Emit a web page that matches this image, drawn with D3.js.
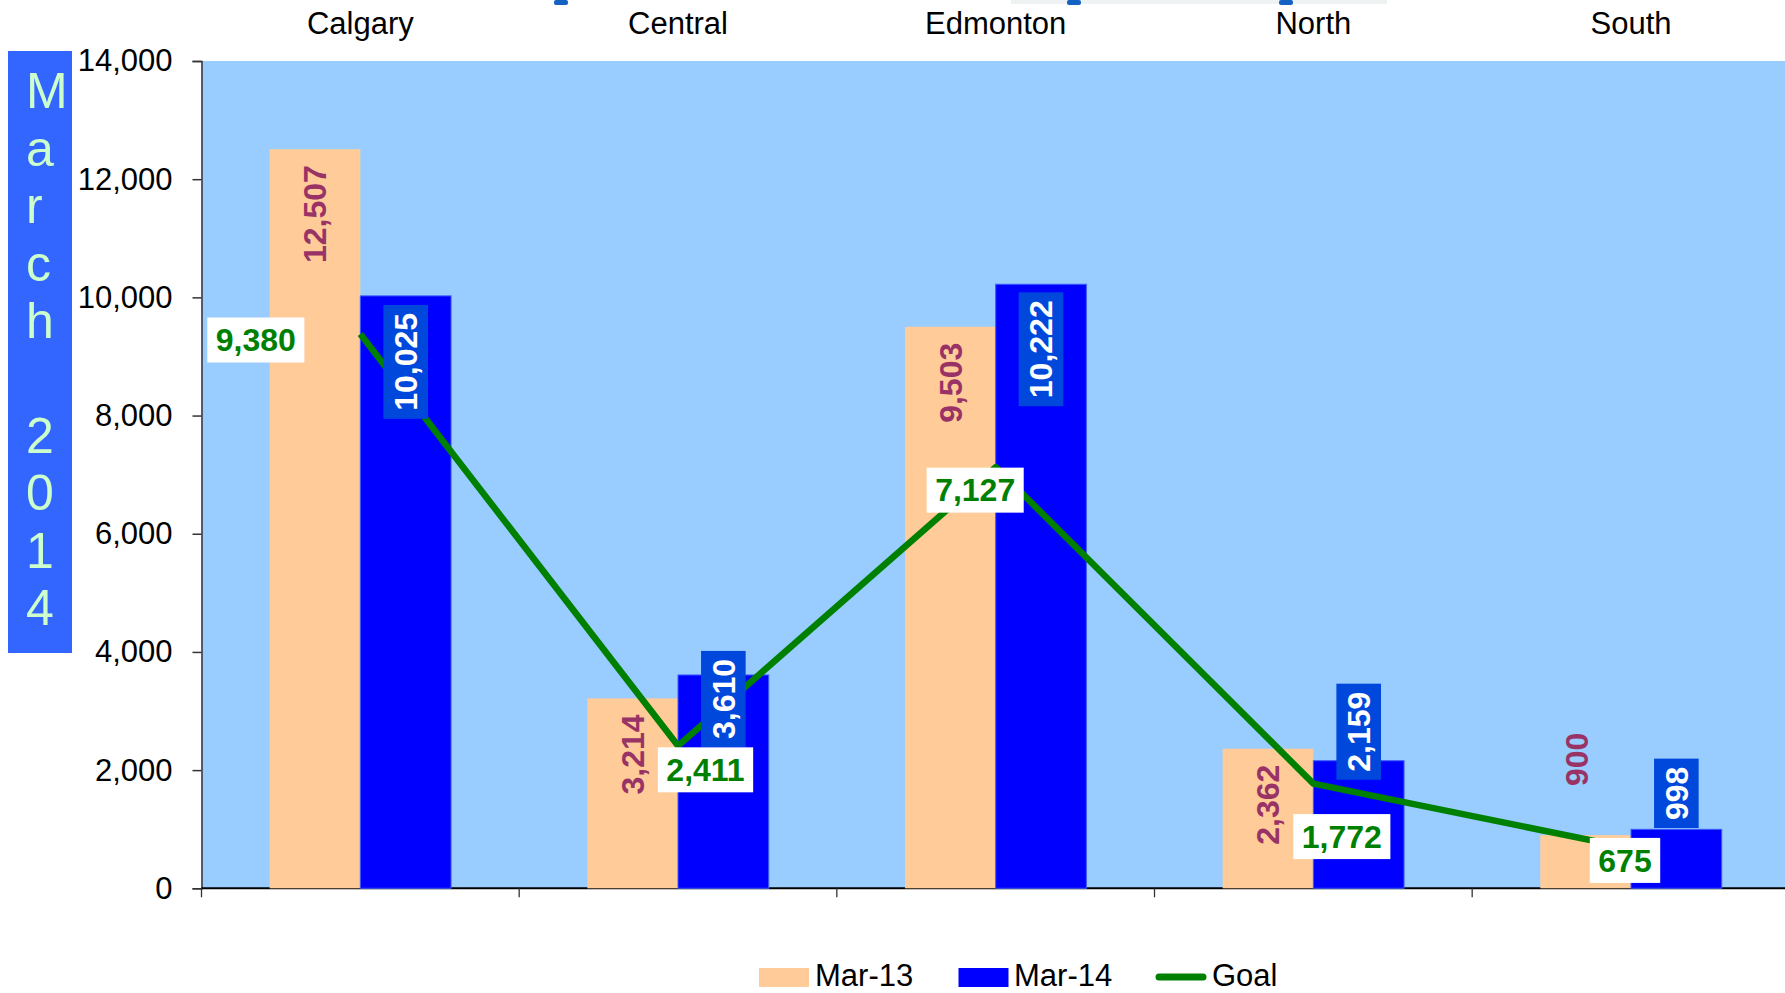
<!DOCTYPE html>
<html>
<head>
<meta charset="utf-8">
<script src="https://cdn.jsdelivr.net/npm/d3@7"></script>
<style>
  body { margin: 0; background: #fff; }
  text { font-family: "Liberation Sans", Arial, sans-serif; }
</style>
</head>
<body>
<script>
// chart data
const categories = ["Calgary", "Central", "Edmonton", "North", "South"];
const seriesNames = ["Mar-13", "Mar-14", "Goal"];
const mar13 = [12507, 3214, 9503, 2362, 900];
const mar14 = [10025, 3610, 10222, 2159, 998];
const goal = [9380, 2411, 7127, 1772, 675];
const yTicks = [0, 2000, 4000, 6000, 8000, 10000, 12000, 14000];
const titleText = "March 2014";

// label nudges (hand placed in the original)
const goalLabelShift = [[-104.5, 6], [27.5, 24], [-20.5, 23], [28.5, 53], [-6, 12]];
const mar14LabelShift = [66, 24, 65, -29, -36];

const W = 1785, H = 993;
const plotLeft = 201.5, plotTop = 61, plotBottom = 888.3;
const band = 317.67;

const svg = d3.select("body").append("svg")
  .attr("width", W)
  .attr("height", H);

const x0 = d3.scaleBand().domain(categories).range([plotLeft, plotLeft + band * categories.length]);
const groupW = x0.bandwidth() * 0.571;
const x1 = d3.scaleBand().domain(seriesNames.slice(0, 2)).range([0, groupW]);
const y = d3.scaleLinear().domain([0, 14000]).range([plotBottom, plotTop]);
const fmt = d3.format(",");

function barX(c, s) { return x0(c) + (x0.bandwidth() - groupW) / 2 + x1(s); }
function mid(c) { return x0(c) + x0.bandwidth() / 2; }

// bits of something cropped at the top edge
svg.append("rect").attr("x", 1011).attr("y", 0).attr("width", 376).attr("height", 4).attr("fill", "#eef2f2");
[561, 1074, 1286].forEach(function(mx) {
  svg.append("rect").attr("x", mx - 7).attr("y", 0).attr("width", 14).attr("height", 5).attr("rx", 2).attr("fill", "#1463c4");
});

// plot background
svg.append("rect")
  .attr("x", plotLeft).attr("y", plotTop)
  .attr("width", W - plotLeft + 10).attr("height", plotBottom - plotTop)
  .attr("fill", "#99ccff");

// title box on the left
svg.append("rect").attr("x", 8).attr("y", 51).attr("width", 64).attr("height", 602).attr("fill", "#3366ff");
titleText.split("").forEach(function(ch, i) {
  if (ch === " ") return;
  svg.append("text")
    .attr("x", 26).attr("y", 108.3 + 57.4 * i)
    .attr("font-size", 50)
    .attr("fill", "#ccffcc")
    .text(ch);
});

// y axis
const yAxis = d3.axisLeft(y).tickValues(yTicks).tickSize(9).tickPadding(20).tickFormat(fmt);
const ya = svg.append("g").attr("transform", "translate(" + plotLeft + ",0)").call(yAxis);
ya.select(".domain").attr("stroke", "#333").attr("stroke-width", 1.5);
ya.selectAll(".tick line").attr("stroke", "#333").attr("stroke-width", 1.5);
ya.selectAll(".tick text").attr("font-size", 31).attr("fill", "#000")
  .attr("font-family", "Liberation Sans, Arial, sans-serif");

// x axis line + boundary ticks
svg.append("line").attr("x1", plotLeft).attr("x2", W).attr("y1", plotBottom).attr("y2", plotBottom)
  .attr("stroke", "#000").attr("stroke-width", 2);
d3.range(categories.length + 1).forEach(function(i) {
  const tx = plotLeft + band * i;
  svg.append("line").attr("x1", tx).attr("x2", tx).attr("y1", plotBottom).attr("y2", plotBottom + 9)
    .attr("stroke", "#333").attr("stroke-width", 1.3);
});

// category names at the top
svg.selectAll(".cat").data(categories).enter().append("text")
  .attr("x", d => mid(d)).attr("y", 34)
  .attr("text-anchor", "middle").attr("font-size", 31).attr("fill", "#000")
  .text(d => d);

// bars
svg.selectAll(".b13").data(categories).enter().append("rect")
  .attr("x", d => barX(d, "Mar-13")).attr("width", x1.bandwidth())
  .attr("y", (d, i) => y(mar13[i])).attr("height", (d, i) => plotBottom - y(mar13[i]))
  .attr("fill", "#ffcc99");
svg.selectAll(".b14").data(categories).enter().append("rect")
  .attr("x", d => barX(d, "Mar-14")).attr("width", x1.bandwidth())
  .attr("y", (d, i) => y(mar14[i])).attr("height", (d, i) => plotBottom - y(mar14[i]))
  .attr("fill", "#0000ff").attr("stroke", "#3a5cff").attr("stroke-width", 1);

// Mar-13 value labels (inside end, or above if it won't fit)
categories.forEach(function(c, i) {
  const cx = barX(c, "Mar-13") + x1.bandwidth() / 2;
  const t = svg.append("text")
    .attr("font-size", 32).attr("font-weight", "bold").attr("fill", "#993366")
    .attr("dy", "0.35em")
    .text(fmt(mar13[i]));
  const len = t.node().getComputedTextLength();
  const barH = plotBottom - y(mar13[i]);
  if (barH > len + 30) {
    t.attr("text-anchor", "end")
      .attr("transform", "translate(" + cx + "," + (y(mar13[i]) + 16) + ") rotate(-90)");
  } else {
    t.attr("text-anchor", "start")
      .attr("transform", "translate(" + (cx - 9) + "," + (y(mar13[i]) - 49) + ") rotate(-90)");
  }
});

// goal line
const line = d3.line().x((d, i) => mid(categories[i])).y(d => y(d));
svg.append("path").datum(goal)
  .attr("d", line)
  .attr("fill", "none").attr("stroke", "#008000").attr("stroke-width", 6.5)
  .attr("stroke-linejoin", "round");

// Mar-14 value labels on blue boxes
categories.forEach(function(c, i) {
  const cx = barX(c, "Mar-14") + x1.bandwidth() / 2;
  const cy = y(mar14[i]) + mar14LabelShift[i];
  const g = svg.append("g").attr("transform", "translate(" + cx + "," + cy + ") rotate(-90)");
  const box = g.append("rect").attr("fill", "#0048dc");
  const t = g.append("text")
    .attr("text-anchor", "middle").attr("dy", "0.35em")
    .attr("font-size", 32).attr("font-weight", "bold").attr("fill", "#fff")
    .text(fmt(mar14[i]));
  const len = t.node().getComputedTextLength() + 16;
  box.attr("x", -len / 2).attr("y", -22.3).attr("width", len).attr("height", 44.6);
});

// goal labels
categories.forEach(function(c, i) {
  const cx = mid(c) + goalLabelShift[i][0];
  const cy = y(goal[i]) + goalLabelShift[i][1];
  const box = svg.append("rect").attr("fill", "#fff");
  const t = svg.append("text")
    .attr("x", cx).attr("y", cy).attr("dy", "0.35em")
    .attr("text-anchor", "middle")
    .attr("font-size", 32).attr("font-weight", "bold").attr("fill", "#008000")
    .text(fmt(goal[i]));
  const len = t.node().getComputedTextLength() + 17;
  box.attr("x", cx - len / 2).attr("y", cy - 22.5).attr("width", len).attr("height", 45);
});

// legend
const legend = svg.append("g");
legend.append("rect").attr("x", 759).attr("y", 968).attr("width", 50).attr("height", 19).attr("fill", "#ffcc99");
legend.append("text").attr("x", 815).attr("y", 986).attr("font-size", 31).text(seriesNames[0]);
legend.append("rect").attr("x", 958.5).attr("y", 968).attr("width", 50).attr("height", 19).attr("fill", "#0000ff");
legend.append("text").attr("x", 1014).attr("y", 986).attr("font-size", 31).text(seriesNames[1]);
legend.append("line").attr("x1", 1159).attr("x2", 1203).attr("y1", 977).attr("y2", 977)
  .attr("stroke", "#008000").attr("stroke-width", 7).attr("stroke-linecap", "round");
legend.append("text").attr("x", 1212).attr("y", 986).attr("font-size", 31).text(seriesNames[2]);
</script>
</body>
</html>
